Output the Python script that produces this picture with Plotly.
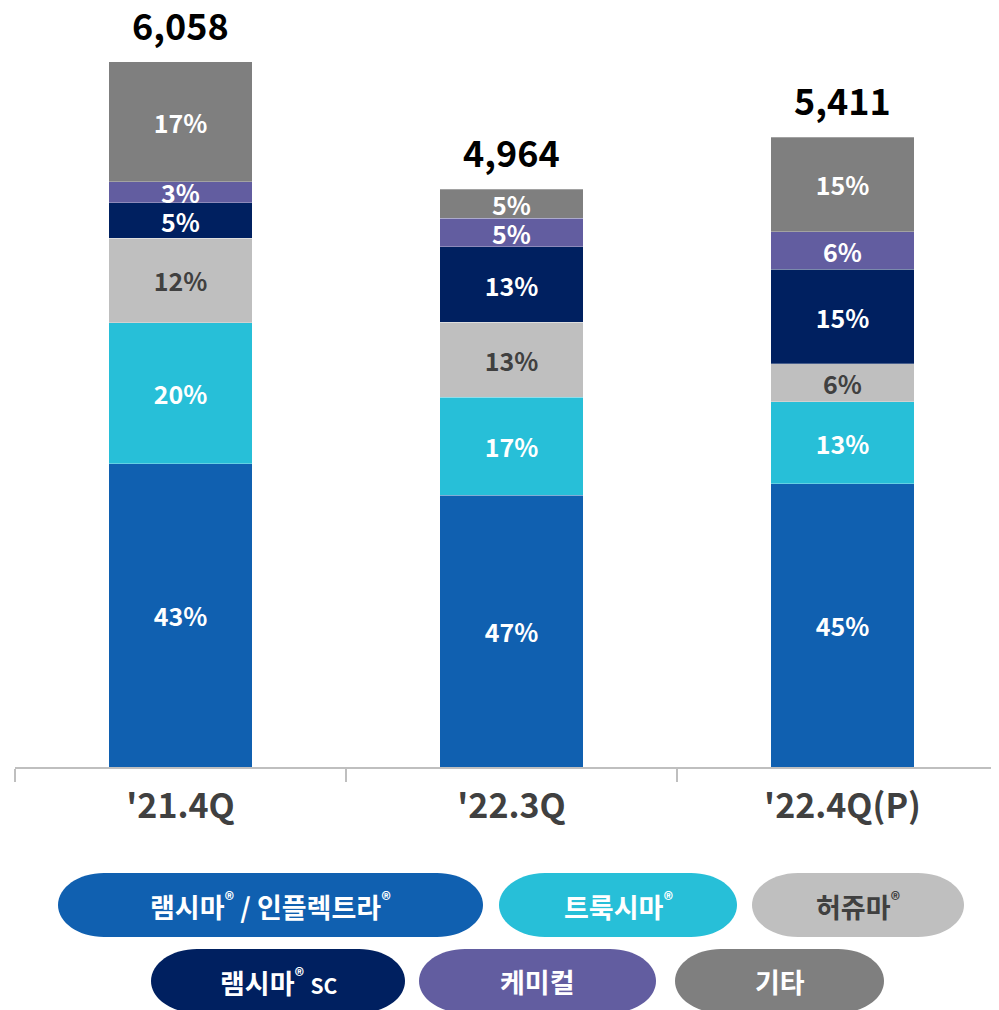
import plotly.graph_objects as go

# 분기별 매출 (억원) 및 제품별 비중 (%)
QUARTERS = ["'21.4Q", "'22.3Q", "'22.4Q(P)"]
TOTALS = [6058, 4964, 5411]

SERIES = ["램시마® / 인플렉트라®", "트룩시마®", "허쥬마®", "램시마® SC", "케미컬", "기타"]
SHARE_REMSIMA = [43, 47, 45]
SHARE_TRUXIMA = [20, 17, 13]
SHARE_HERZUMA = [12, 13, 6]
SHARE_REMSIMA_SC = [5, 13, 15]
SHARE_CHEMICAL = [3, 5, 6]
SHARE_ETC = [17, 5, 15]

SHARES = [SHARE_REMSIMA, SHARE_TRUXIMA, SHARE_HERZUMA,
          SHARE_REMSIMA_SC, SHARE_CHEMICAL, SHARE_ETC]
COLORS = ["#1060B0", "#27BFD8", "#BFBFBF", "#002060", "#625DA0", "#7F7F7F"]
TEXT_COLORS = ["white", "white", "#404040", "white", "white", "white"]

# 범례 알약 (라벨 HTML, 좌·우 px, 중심 y px — 페이지 기준)
PILL_TEXT = [
    "램시마<sup>®</sup> / 인플렉트라<sup>®</sup>",
    "트룩시마<sup>®</sup>",
    "허쥬마<sup>®</sup>",
    "램시마<sup>®</sup> <span style='font-size:21px'>SC</span>",
    "케미컬",
    "기타",
]
PILL_POS = [(58, 483, 905), (499, 737, 905), (752, 964, 905),
            (151, 405, 981), (419, 656, 981), (675, 884, 981)]

OFF = 8  # 페이지 기본 여백
W, H = 999 - OFF, 1010 - OFF
ML = 15 - OFF
PLOT_W = W - ML
PLOT_H = 767 - OFF
MB = H - PLOT_H
PX_PER_CAT = 331
PX_PER_UNIT = 0.1164

FONT = "Noto Sans CJK KR"

fig = go.Figure()

for name, share, color, tcolor in zip(SERIES, SHARES, COLORS, TEXT_COLORS):
    fig.add_trace(go.Bar(
        x=QUARTERS,
        y=[t * s / 100 for t, s in zip(TOTALS, share)],
        name=name,
        width=0.435,
        marker=dict(color=color, line=dict(width=0.8, color="rgba(255,255,255,0.35)")),
        text=[f"{s}%" for s in share],
        textposition="inside",
        insidetextanchor="middle",
        textangle=0,
        constraintext="none",
        textfont=dict(family=FONT, size=25, color=tcolor, weight="bold"),
        hoverinfo="skip",
        showlegend=False,
    ))

annotations = []
for q, t in zip(QUARTERS, TOTALS):
    annotations.append(dict(
        x=q, y=t, xref="x", yref="y",
        text=f"{t:,}", showarrow=False,
        yanchor="bottom", yshift=10,
        font=dict(family=FONT, size=36, color="black", weight="bold"),
    ))


def px_to_paper(px, py):
    fx, fy = px - OFF, py - OFF
    return (fx - ML) / PLOT_W, (PLOT_H - fy) / PLOT_H


def pill_path(half_w, half_h, rx):
    k = 0.5523
    x1 = half_w - rx
    return (
        f"M {-x1},{-half_h} L {x1},{-half_h} "
        f"C {x1 + k * rx},{-half_h} {half_w},{-k * half_h} {half_w},0 "
        f"C {half_w},{k * half_h} {x1 + k * rx},{half_h} {x1},{half_h} "
        f"L {-x1},{half_h} "
        f"C {-x1 - k * rx},{half_h} {-half_w},{k * half_h} {-half_w},0 "
        f"C {-half_w},{-k * half_h} {-x1 - k * rx},{-half_h} {-x1},{-half_h} Z"
    )


shapes = []
for label, (x0, x1, yc), color, tcolor in zip(PILL_TEXT, PILL_POS, COLORS, TEXT_COLORS):
    ax, ay = px_to_paper((x0 + x1) / 2, yc)
    shapes.append(dict(
        type="path", xref="paper", yref="paper",
        xsizemode="pixel", ysizemode="pixel",
        xanchor=ax, yanchor=ay,
        path=pill_path((x1 - x0) / 2, 32, 46),
        fillcolor=color, line=dict(width=0), layer="above",
    ))
    annotations.append(dict(
        x=ax, y=ay, xref="paper", yref="paper",
        text=label, showarrow=False,
        xanchor="center", yanchor="middle",
        font=dict(family=FONT, size=27, color=tcolor, weight="bold"),
    ))

fig.update_layout(
    barmode="stack",
    width=W, height=H,
    margin=dict(l=ML, r=0, t=0, b=MB, pad=0),
    paper_bgcolor="white",
    plot_bgcolor="white",
    uniformtext=dict(minsize=25, mode="show"),
    xaxis=dict(
        type="category",
        range=[-0.5, -0.5 + PLOT_W / PX_PER_CAT],
        showline=True, linecolor="#BFBFBF", linewidth=2,
        ticks="outside", tickson="boundaries", ticklen=13,
        tickcolor="#BFBFBF", tickwidth=2,
        ticklabelstandoff=8,
        tickfont=dict(family=FONT, size=34, color="#404040", weight="bold"),
        showgrid=False,
    ),
    yaxis=dict(
        range=[0, PLOT_H / PX_PER_UNIT],
        visible=False, showgrid=False, zeroline=False,
    ),
    shapes=shapes,
    annotations=annotations,
)

fig.write_html("out.html")
